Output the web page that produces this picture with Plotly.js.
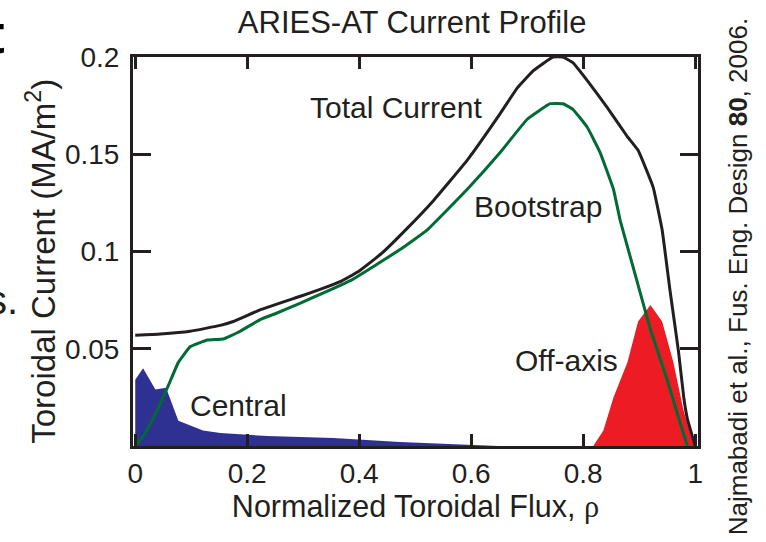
<!DOCTYPE html>
<html>
<head>
<meta charset="utf-8">
<script src="https://cdn.plot.ly/plotly-3.0.1.min.js"></script>
<style>
  html, body { margin: 0; padding: 0; background: #ffffff; }
  #chart { width: 766px; height: 542px; }
</style>
</head>
<body>
<div id="chart"></div>
<script>
// ARIES-AT toroidal current profile: total, bootstrap, central and off-axis drive
const rhoTotal = [0, 0.045, 0.098, 0.152, 0.175, 0.223, 0.295, 0.33, 0.366, 0.40, 0.44, 0.486, 0.532, 0.593,
                  0.652, 0.682, 0.711, 0.746, 0.764, 0.782, 0.807, 0.843, 0.879, 0.898, 0.925,
                  0.941, 0.955, 0.970, 0.980, 0.986, 1.0];
const jTotal   = [0.057, 0.0576, 0.059, 0.062, 0.064, 0.070, 0.077, 0.0805, 0.0845, 0.090, 0.099, 0.112, 0.126, 0.147,
                  0.171, 0.184, 0.193, 0.2, 0.2, 0.197, 0.188, 0.174, 0.159, 0.152, 0.133,
                  0.111, 0.080, 0.049, 0.024, 0.014, 0];

const rhoBootstrap = [0, 0.018, 0.041, 0.059, 0.077, 0.098, 0.129, 0.157, 0.1875, 0.223, 0.25, 0.295,
                      0.384, 0.473, 0.521, 0.593, 0.652, 0.700, 0.741, 0.764, 0.782, 0.807, 0.830,
                      0.854, 0.866, 0.893, 0.920, 0.950, 0.973, 0.986];
const jBootstrap   = [0, 0.0067, 0.0195, 0.031, 0.043, 0.051, 0.0545, 0.055, 0.059, 0.065, 0.068, 0.0735,
                      0.085, 0.101, 0.111, 0.132, 0.151, 0.168, 0.176, 0.176, 0.173, 0.164, 0.151,
                      0.132, 0.116, 0.088, 0.060, 0.034, 0.012, 0];

const rhoCentral = [0, 0.014, 0.036, 0.055, 0.077, 0.095, 0.121, 0.152, 0.236, 0.354, 0.473, 0.648];
const jCentral   = [0.034, 0.040, 0.029, 0.030, 0.013, 0.011, 0.008, 0.0067, 0.0051, 0.0041, 0.0021, 0];

const rhoOffAxis = [0.818, 0.836, 0.854, 0.879, 0.898, 0.920, 0.941, 0.961, 0.979, 0.998];
const jOffAxis   = [0, 0.008, 0.025, 0.043, 0.064, 0.0725, 0.064, 0.043, 0.0185, 0];

const xTickVals = [0, 0.2, 0.4, 0.6, 0.8, 1];
const xTickText = ['0', '0.2', '0.4', '0.6', '0.8', '1'];
const yTickVals = [0.05, 0.1, 0.15, 0.2];
const yTickText = ['0.05', '0.1', '0.15', '0.2'];

const INK = '#231f20';
const FONT = 'Liberation Sans, Arial, sans-serif';

const traces = [
  { x: rhoCentral, y: jCentral, type: 'scatter', mode: 'lines', fill: 'tozeroy',
    fillcolor: '#2e3192', line: { width: 0, color: '#2e3192' }, hoverinfo: 'skip' },
  { x: rhoOffAxis, y: jOffAxis, type: 'scatter', mode: 'lines', fill: 'tozeroy',
    fillcolor: '#ed1c24', line: { width: 0, color: '#ed1c24' }, hoverinfo: 'skip' },
  { x: rhoBootstrap, y: jBootstrap, type: 'scatter', mode: 'lines',
    line: { color: '#006b35', width: 3, shape: 'spline', smoothing: 0.3 } },
  { x: rhoTotal, y: jTotal, type: 'scatter', mode: 'lines',
    line: { color: INK, width: 3, shape: 'spline', smoothing: 0.3 } }
];

const layout = {
  width: 766, height: 542,
  margin: { l: 133, r: 68, t: 57, b: 96 },
  paper_bgcolor: '#ffffff', plot_bgcolor: '#ffffff',
  showlegend: false,
  font: { family: FONT, color: INK, size: 28 },
  title: { text: 'ARIES-AT Current Profile', x: 0.538, xanchor: 'center', y: 0.96, yanchor: 'middle',
           font: { size: 31, color: INK, family: FONT } },
  xaxis: {
    range: [-0.004, 1.005], tickvals: xTickVals, ticktext: xTickText,
    showgrid: false, zeroline: false,
    showline: true, linecolor: INK, linewidth: 3, mirror: 'ticks',
    ticks: 'inside', ticklen: 12, tickwidth: 3, tickcolor: INK,
    tickfont: { size: 28, color: INK, family: FONT },
    title: { text: 'Normalized Toroidal Flux, <span style="font-family:Liberation Serif, serif">\u03c1</span>',
             font: { size: 30.5, color: INK, family: FONT }, standoff: 2 }
  },
  yaxis: {
    range: [0, 0.2], tickvals: yTickVals, ticktext: yTickText,
    showgrid: false, zeroline: false,
    showline: true, linecolor: INK, linewidth: 3, mirror: 'ticks',
    ticks: 'inside', ticklen: 18, tickwidth: 3, tickcolor: INK, ticklabelstandoff: 5,
    tickfont: { size: 28, color: INK, family: FONT }
  },
  annotations: [
    { text: 'Toroidal Current (MA/m<sup>2</sup>)', textangle: -90,
      x: -0.163, y: 0.476, xref: 'paper', yref: 'paper', xanchor: 'center', yanchor: 'middle',
      showarrow: false, font: { size: 33, color: INK, family: FONT } },
    { text: 'Total Current', x: 0.466, y: 0.174, xref: 'x', yref: 'y', showarrow: false,
      font: { size: 30, color: INK, family: FONT } },
    { text: 'Bootstrap', x: 0.720, y: 0.123, xref: 'x', yref: 'y', showarrow: false,
      font: { size: 30, color: INK, family: FONT } },
    { text: 'Central', x: 0.184, y: 0.021, xref: 'x', yref: 'y', showarrow: false,
      font: { size: 30, color: INK, family: FONT } },
    { text: 'Off-axis', x: 0.771, y: 0.044, xref: 'x', yref: 'y', showarrow: false,
      font: { size: 30, color: INK, family: FONT } },
    { text: 'Najmabadi et al., Fus. Eng. Design <b>80</b>, 2006.', textangle: -90,
      x: 1.071, y: 0.434, xref: 'paper', yref: 'paper', xanchor: 'center', yanchor: 'middle',
      showarrow: false, font: { size: 26, color: INK, family: FONT } },
    { text: '<b>t</b>', x: -0.263, y: 1.06, xref: 'paper', yref: 'paper',
      xanchor: 'left', yanchor: 'middle', showarrow: false,
      font: { size: 56, color: '#000000', family: FONT } },
    { text: 's.', x: -0.2, y: 0.375, xref: 'paper', yref: 'paper',
      xanchor: 'right', yanchor: 'middle', showarrow: false,
      font: { size: 40, color: INK, family: FONT } }
  ]
};

Plotly.newPlot('chart', traces, layout, { staticPlot: true, displayModeBar: false });
</script>
</body>
</html>
